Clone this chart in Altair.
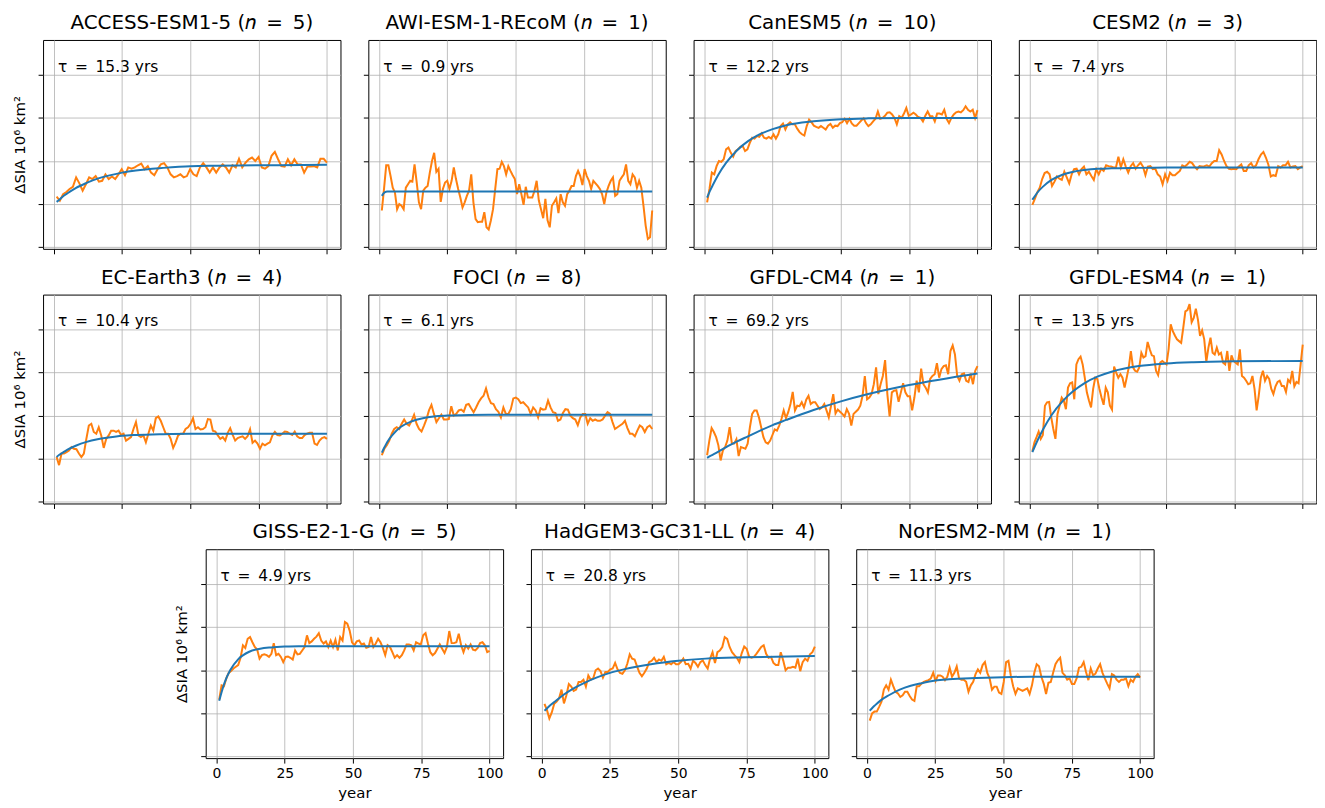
import altair as alt
import numpy as np
import pandas as pd

FIT_YEARS = [1, 2, 3, 5, 8, 12, 16, 20, 25, 30, 40, 50, 60, 75, 100]
X_TICKS = [0, 25, 50, 75, 100]
Y_TICKS = [0, 1, 2, 3, 4]

access_obs = [1.17, 1.08, 1.23, 1.28, 1.35, 1.40, 1.62, 1.48, 1.31, 1.46, 1.62, 1.58, 1.65, 1.52, 1.54, 1.69, 1.58, 1.64, 1.58, 1.69, 1.81, 1.67, 1.85, 1.82, 1.85, 1.90, 1.94, 1.81, 1.88, 1.73, 1.67, 1.81, 1.92, 1.95, 1.85, 1.69, 1.62, 1.65, 1.69, 1.62, 1.65, 1.81, 1.69, 1.65, 1.85, 1.95, 1.85, 1.73, 1.85, 1.73, 1.85, 1.92, 1.85, 1.73, 1.90, 1.85, 2.05, 1.85, 1.96, 2.04, 2.08, 2.00, 2.09, 1.85, 1.82, 1.88, 2.12, 2.21, 2.04, 1.88, 1.87, 2.04, 1.90, 2.04, 1.92, 1.92, 1.73, 1.87, 1.87, 1.88, 1.85, 2.05, 2.05, 1.96]
access_fit = [1.05, 1.10, 1.16, 1.25, 1.37, 1.49, 1.59, 1.66, 1.73, 1.78, 1.84, 1.88, 1.89, 1.90, 1.91]

awi_obs = [0.85, 1.35, 1.90, 1.90, 1.65, 1.38, 1.27, 0.88, 1.00, 0.96, 0.88, 1.38, 1.46, 1.54, 1.52, 1.92, 1.50, 1.04, 0.88, 1.31, 1.38, 1.42, 1.73, 2.00, 2.19, 1.75, 1.82, 1.05, 1.35, 1.50, 1.54, 1.35, 1.54, 1.85, 1.58, 1.35, 1.15, 0.92, 1.04, 1.19, 1.31, 1.69, 1.04, 0.65, 0.58, 0.59, 0.59, 0.81, 0.46, 0.41, 0.62, 0.88, 1.35, 1.81, 1.82, 1.98, 1.88, 1.69, 1.88, 1.77, 1.67, 1.58, 1.23, 1.46, 1.23, 0.98, 1.40, 1.15, 1.15, 1.15, 1.31, 1.54, 1.08, 0.88, 0.67, 1.12, 0.62, 0.46, 0.96, 1.04, 1.13, 0.79, 1.23, 1.04, 0.96, 1.23, 1.31, 1.42, 1.42, 1.65, 1.77, 1.65, 1.44, 1.81, 1.65, 1.54, 1.35, 1.54, 1.48, 1.42, 1.35, 1.23, 1.00, 1.27, 1.42, 1.54, 1.62, 1.19, 1.23, 1.54, 1.62, 1.69, 1.92, 1.54, 1.46, 1.69, 1.62, 1.38, 1.54, 1.38, 0.96, 0.50, 0.19, 0.23, 0.85]
awi_fit = [1.19, 1.27, 1.29, 1.29, 1.29, 1.29, 1.29, 1.29, 1.29, 1.29, 1.29, 1.29, 1.29, 1.29, 1.29]

canesm_obs = [1.04, 1.35, 1.73, 1.69, 1.88, 2.00, 1.98, 2.04, 2.27, 2.31, 2.19, 2.10, 2.23, 2.27, 2.33, 2.35, 2.23, 2.27, 2.42, 2.54, 2.52, 2.58, 2.56, 2.64, 2.54, 2.52, 2.56, 2.52, 2.62, 2.52, 2.62, 2.81, 2.87, 2.73, 2.85, 2.90, 2.85, 2.85, 2.75, 2.67, 2.62, 2.59, 2.81, 2.96, 2.90, 2.82, 2.79, 2.77, 2.81, 2.77, 2.73, 2.82, 2.86, 2.77, 2.82, 2.81, 2.88, 2.90, 2.98, 2.88, 2.98, 2.87, 2.82, 2.82, 2.88, 2.94, 2.99, 2.88, 2.81, 2.85, 2.92, 2.98, 3.15, 2.98, 3.00, 3.05, 3.12, 3.13, 3.08, 3.00, 2.85, 3.04, 3.00, 3.10, 3.23, 3.05, 3.08, 3.12, 3.08, 3.02, 3.00, 2.92, 3.05, 3.15, 3.04, 3.04, 2.92, 3.10, 3.10, 3.08, 3.19, 2.98, 2.88, 3.00, 3.08, 3.13, 3.15, 3.13, 3.18, 3.27, 3.19, 3.15, 3.19, 3.00, 3.18]
canesm_fit = [1.15, 1.30, 1.43, 1.67, 1.96, 2.25, 2.46, 2.61, 2.74, 2.83, 2.92, 2.97, 2.99, 3.00, 3.00]

cesm_obs = [0.98, 1.12, 1.27, 1.38, 1.58, 1.72, 1.75, 1.69, 1.42, 1.52, 1.64, 1.59, 1.56, 1.75, 1.62, 1.48, 1.69, 1.81, 1.82, 1.69, 1.81, 1.87, 1.69, 1.75, 1.65, 1.56, 1.81, 1.69, 1.82, 1.77, 1.90, 1.88, 1.87, 1.85, 1.85, 2.10, 1.85, 2.04, 1.87, 1.73, 1.88, 1.95, 1.82, 1.90, 1.96, 1.87, 1.67, 1.87, 1.88, 1.81, 1.82, 1.69, 1.64, 1.46, 1.69, 1.54, 1.73, 1.67, 1.67, 1.72, 1.77, 1.90, 1.87, 1.92, 1.98, 1.95, 1.87, 1.81, 1.88, 1.87, 1.88, 1.90, 1.87, 1.95, 2.00, 2.00, 2.25, 2.15, 2.00, 1.88, 1.82, 1.81, 1.82, 1.81, 1.87, 1.92, 1.77, 1.77, 1.90, 1.95, 1.85, 1.90, 2.04, 2.15, 2.21, 2.08, 1.92, 1.64, 1.67, 1.65, 1.88, 1.85, 1.90, 1.90, 1.98, 1.85, 1.87, 1.88, 1.81, 1.85, 1.88]
cesm_fit = [1.10, 1.19, 1.28, 1.41, 1.56, 1.68, 1.75, 1.79, 1.82, 1.83, 1.84, 1.85, 1.85, 1.85, 1.85]

ecearth_obs = [1.04, 0.85, 1.12, 1.12, 1.15, 1.19, 1.27, 1.23, 1.22, 1.12, 1.04, 1.12, 1.46, 1.77, 1.81, 1.62, 1.58, 1.73, 1.54, 1.25, 1.46, 1.54, 1.65, 1.65, 1.62, 1.65, 1.55, 1.58, 1.42, 1.46, 1.50, 1.69, 1.85, 1.54, 1.50, 1.54, 1.38, 1.58, 1.77, 1.65, 1.94, 1.98, 1.88, 1.73, 1.58, 1.58, 1.46, 1.25, 1.38, 1.54, 1.58, 1.58, 1.69, 1.73, 1.81, 1.94, 1.69, 1.73, 1.68, 1.69, 1.73, 1.92, 1.91, 1.65, 1.63, 1.54, 1.46, 1.50, 1.42, 1.60, 1.71, 1.55, 1.42, 1.48, 1.50, 1.52, 1.46, 1.52, 1.68, 1.37, 1.42, 1.35, 1.23, 1.35, 1.31, 1.35, 1.38, 1.54, 1.62, 1.55, 1.54, 1.58, 1.63, 1.62, 1.58, 1.55, 1.63, 1.52, 1.48, 1.48, 1.55, 1.58, 1.60, 1.60, 1.35, 1.32, 1.42, 1.48, 1.50, 1.46]
ecearth_fit = [1.04, 1.09, 1.13, 1.21, 1.30, 1.39, 1.45, 1.49, 1.53, 1.55, 1.57, 1.58, 1.58, 1.58, 1.58]

foci_obs = [1.08, 1.23, 1.31, 1.42, 1.58, 1.69, 1.73, 1.69, 1.81, 1.91, 1.81, 1.77, 1.88, 2.02, 1.81, 1.69, 1.63, 1.77, 1.92, 2.12, 2.25, 2.04, 1.85, 1.94, 2.02, 1.91, 1.91, 1.92, 2.22, 2.00, 2.04, 2.12, 2.14, 2.09, 2.25, 2.27, 2.17, 2.08, 2.19, 2.31, 2.40, 2.46, 2.63, 2.42, 2.29, 2.27, 2.15, 2.09, 1.96, 2.19, 2.04, 2.04, 2.15, 2.40, 2.42, 2.38, 2.29, 2.31, 2.25, 2.19, 2.04, 2.19, 2.12, 1.96, 2.17, 2.14, 2.15, 2.35, 2.19, 2.08, 2.06, 1.88, 1.91, 2.06, 2.15, 2.14, 2.00, 1.94, 1.91, 1.78, 1.96, 2.04, 2.04, 1.81, 1.94, 1.88, 1.91, 1.88, 1.88, 1.91, 2.00, 2.08, 2.04, 1.85, 1.69, 1.73, 1.77, 1.81, 1.88, 1.71, 1.58, 1.58, 1.52, 1.65, 1.77, 1.73, 1.62, 1.73, 1.77, 1.69]
foci_fit = [1.14, 1.27, 1.39, 1.56, 1.74, 1.87, 1.94, 1.98, 2.00, 2.01, 2.02, 2.02, 2.02, 2.02, 2.02]

gfdlcm_obs = [1.08, 1.42, 1.71, 1.62, 1.50, 1.31, 0.96, 1.19, 1.27, 1.42, 1.73, 1.35, 1.35, 1.45, 1.06, 1.27, 1.25, 1.23, 1.35, 1.73, 2.04, 2.12, 2.12, 1.96, 1.73, 1.50, 1.38, 1.35, 1.42, 1.55, 1.68, 1.65, 1.77, 1.92, 2.12, 1.94, 2.08, 2.27, 2.55, 2.12, 2.23, 2.22, 2.31, 2.19, 2.37, 2.46, 2.27, 2.31, 2.31, 2.23, 2.15, 2.19, 2.27, 2.12, 1.96, 2.23, 2.50, 2.05, 2.14, 2.09, 2.04, 1.98, 2.15, 2.04, 1.77, 2.04, 2.09, 2.14, 2.23, 2.46, 2.92, 2.38, 2.42, 2.50, 2.73, 3.12, 2.50, 2.73, 2.92, 3.29, 2.50, 1.98, 2.54, 2.58, 2.59, 2.32, 2.54, 2.75, 2.54, 2.45, 2.45, 2.12, 2.42, 2.81, 2.54, 3.09, 2.73, 2.65, 2.54, 2.85, 2.92, 2.96, 3.22, 2.88, 3.08, 3.15, 3.17, 2.96, 3.50, 3.63, 3.42, 2.92, 2.81, 2.96, 2.98, 2.81, 2.78, 2.98, 2.73, 3.04, 3.15]
gfdlcm_fit = [1.02, 1.06, 1.09, 1.16, 1.27, 1.40, 1.52, 1.64, 1.78, 1.90, 2.13, 2.33, 2.50, 2.71, 2.98]

gfdlesm_obs = [1.17, 1.38, 1.50, 1.63, 1.46, 1.55, 2.23, 2.31, 2.32, 1.96, 1.69, 1.46, 2.04, 2.23, 2.42, 2.35, 2.15, 2.65, 2.75, 2.77, 2.38, 3.19, 3.31, 3.37, 3.19, 2.88, 2.54, 2.35, 2.19, 2.62, 2.88, 2.85, 2.62, 2.42, 2.25, 2.65, 2.54, 2.23, 2.14, 3.14, 3.00, 2.88, 2.96, 2.88, 2.65, 2.88, 3.12, 3.50, 3.12, 3.04, 3.02, 3.12, 3.46, 3.35, 3.38, 3.71, 3.54, 3.40, 3.38, 3.04, 2.94, 3.23, 3.27, 3.23, 3.19, 3.54, 4.12, 3.96, 3.86, 3.77, 3.73, 3.69, 4.04, 4.42, 4.45, 4.59, 4.17, 4.27, 4.48, 4.23, 3.85, 3.98, 3.77, 3.25, 3.58, 3.81, 3.46, 3.42, 3.58, 3.42, 3.46, 3.23, 3.19, 3.50, 3.04, 3.40, 3.27, 3.23, 3.19, 3.54, 2.92, 2.88, 2.81, 2.73, 2.75, 2.92, 2.62, 2.12, 2.46, 2.88, 3.04, 2.81, 2.92, 2.85, 2.62, 2.50, 2.68, 2.78, 2.81, 2.69, 2.69, 2.55, 2.83, 2.77, 3.04, 2.68, 2.78, 2.75, 3.19, 3.65]
gfdlesm_fit = [1.15, 1.30, 1.44, 1.69, 2.01, 2.33, 2.57, 2.75, 2.91, 3.02, 3.15, 3.21, 3.24, 3.26, 3.27]

giss_obs = [1.32, 1.65, 1.63, 1.81, 1.94, 1.98, 2.04, 2.08, 2.12, 2.29, 2.58, 2.52, 2.73, 2.77, 2.65, 2.54, 2.48, 2.27, 2.35, 2.37, 2.35, 2.31, 2.38, 2.63, 2.35, 2.38, 2.31, 2.19, 2.31, 2.32, 2.29, 2.25, 2.46, 2.37, 2.38, 2.46, 2.54, 2.81, 2.63, 2.67, 2.73, 2.78, 2.86, 2.69, 2.62, 2.67, 2.54, 2.69, 2.54, 2.71, 2.46, 2.77, 2.69, 3.12, 3.08, 2.92, 2.65, 2.58, 2.67, 2.69, 2.60, 2.62, 2.52, 2.54, 2.77, 2.54, 2.62, 2.73, 2.65, 2.52, 2.35, 2.58, 2.54, 2.42, 2.29, 2.35, 2.29, 2.35, 2.46, 2.60, 2.60, 2.58, 2.46, 2.65, 2.62, 2.60, 2.81, 2.86, 2.62, 2.42, 2.35, 2.40, 2.50, 2.60, 2.50, 2.40, 2.54, 2.91, 2.63, 2.63, 2.65, 2.85, 2.58, 2.42, 2.58, 2.50, 2.60, 2.48, 2.46, 2.52, 2.63, 2.65, 2.58, 2.42, 2.45]
giss_fit = [1.29, 1.52, 1.72, 2.00, 2.26, 2.43, 2.50, 2.53, 2.55, 2.56, 2.56, 2.56, 2.56, 2.56, 2.56]

hadgem_obs = [1.22, 1.08, 0.88, 1.02, 1.22, 1.27, 1.35, 1.55, 1.23, 1.42, 1.68, 1.62, 1.52, 1.55, 1.73, 1.73, 1.78, 1.62, 1.88, 1.78, 1.81, 2.00, 2.04, 1.98, 1.83, 1.96, 1.96, 2.02, 2.04, 2.17, 2.02, 1.94, 1.92, 2.00, 2.15, 2.37, 2.27, 2.25, 2.09, 1.94, 1.86, 1.94, 2.04, 2.19, 2.22, 2.29, 2.19, 2.25, 2.22, 2.31, 2.14, 2.17, 2.14, 2.19, 2.14, 2.14, 2.19, 2.27, 2.14, 2.15, 2.04, 2.22, 2.17, 2.08, 2.19, 2.23, 2.12, 2.04, 2.27, 2.42, 2.17, 2.42, 2.46, 2.54, 2.77, 2.73, 2.54, 2.42, 2.35, 2.29, 2.19, 2.40, 2.55, 2.50, 2.32, 2.29, 2.31, 2.38, 2.46, 2.54, 2.58, 2.38, 2.29, 2.31, 2.17, 2.12, 2.12, 2.42, 2.23, 2.00, 2.06, 2.06, 2.08, 2.06, 2.27, 1.98, 2.19, 2.27, 2.22, 2.37, 2.42, 2.55]
hadgem_fit = [1.06, 1.12, 1.18, 1.28, 1.43, 1.59, 1.72, 1.83, 1.94, 2.02, 2.14, 2.22, 2.27, 2.30, 2.33]

noresm_obs = [0.83, 1.00, 1.04, 1.04, 1.15, 1.27, 1.55, 1.65, 1.55, 1.78, 1.63, 1.50, 1.46, 1.38, 1.42, 1.50, 1.50, 1.40, 1.32, 1.29, 1.63, 1.63, 1.69, 1.73, 1.75, 1.77, 1.81, 1.94, 1.75, 1.88, 1.88, 1.85, 1.77, 1.85, 2.06, 1.85, 1.94, 2.09, 1.81, 1.78, 1.78, 1.73, 1.50, 1.65, 1.73, 1.91, 2.02, 1.94, 2.12, 2.19, 1.94, 1.81, 1.55, 1.62, 1.62, 1.48, 1.45, 1.73, 2.19, 2.22, 1.88, 1.63, 1.45, 1.58, 1.55, 1.52, 1.55, 1.58, 1.45, 1.65, 1.94, 2.14, 2.09, 1.85, 1.69, 1.45, 1.71, 1.73, 1.94, 2.14, 2.23, 2.29, 1.94, 1.88, 1.78, 1.81, 1.68, 1.68, 1.81, 2.06, 2.08, 2.19, 1.96, 1.77, 2.04, 1.88, 1.92, 2.04, 2.14, 1.94, 1.81, 1.69, 1.58, 1.91, 1.88, 1.78, 1.73, 1.78, 1.78, 1.81, 1.63, 1.78, 1.73, 1.85, 1.91, 1.83]
noresm_fit = [1.06, 1.13, 1.19, 1.30, 1.42, 1.55, 1.64, 1.70, 1.76, 1.79, 1.82, 1.84, 1.85, 1.85, 1.85]

models = [
    ("ACCESS-ESM1-5", 5, "15.3", access_obs, access_fit),
    ("AWI-ESM-1-REcoM", 1, "0.9", awi_obs, awi_fit),
    ("CanESM5", 10, "12.2", canesm_obs, canesm_fit),
    ("CESM2", 3, "7.4", cesm_obs, cesm_fit),
    ("EC-Earth3", 4, "10.4", ecearth_obs, ecearth_fit),
    ("FOCI", 8, "6.1", foci_obs, foci_fit),
    ("GFDL-CM4", 1, "69.2", gfdlcm_obs, gfdlcm_fit),
    ("GFDL-ESM4", 1, "13.5", gfdlesm_obs, gfdlesm_fit),
    ("GISS-E2-1-G", 5, "4.9", giss_obs, giss_fit),
    ("HadGEM3-GC31-LL", 4, "20.8", hadgem_obs, hadgem_fit),
    ("NorESM2-MM", 1, "11.3", noresm_obs, noresm_fit),
]

FONT = "DejaVu Sans"
SP = "\u2002"  # en space, wider gaps around "=" as in mathtext


def build_panel(name, n, tau, obs, fit, first_col, bottom_row):
    obs_df = pd.DataFrame({"year": np.linspace(1, 100, len(obs)), "value": obs})
    fit_df = pd.DataFrame({"year": FIT_YEARS, "value": fit})
    label_df = pd.DataFrame({"label": [f"τ{SP}={SP}{tau} yrs"]})

    x = alt.X(
        "year:Q",
        scale=alt.Scale(domain=[-3.95, 104.95], nice=False, zero=False),
        axis=alt.Axis(values=X_TICKS, labels=bottom_row, labelPadding=3, titlePadding=6),
        title="year" if bottom_row else None,
    )
    y = alt.Y(
        "value:Q",
        scale=alt.Scale(domain=[-0.04, 4.81], nice=False, zero=False),
        axis=alt.Axis(
            values=Y_TICKS, labels=False, titleX=-24, titleAngle=270,
            titleAlign="center", titleBaseline="middle",
        ),
        title="ΔSIA 10⁶ km²" if first_col else None,
    )

    fit_line = alt.Chart(fit_df).mark_line(
        color="#1f77b4", strokeWidth=2, interpolate="monotone"
    ).encode(x=x, y=y)
    obs_line = alt.Chart(obs_df).mark_line(
        color="#ff7f0e", strokeWidth=2
    ).encode(x=x, y=y)
    tau_text = alt.Chart(label_df).mark_text(
        align="left", baseline="alphabetic", fontSize=15.5, font=FONT, color="black"
    ).encode(x=alt.value(15), y=alt.value(32), text="label:N")

    return alt.layer(obs_line, fit_line, tau_text).properties(
        width=299,
        height=210,
        title=alt.TitleParams(
            f"{name} (𝑛{SP}={SP}{n})", fontSize=20, fontWeight="normal",
            font=FONT, color="black", offset=7,
        ),
    )


panels = []
for i, (name, n, tau, obs, fit) in enumerate(models):
    first_col = i in (0, 4, 8)
    bottom_row = i >= 8
    panels.append(build_panel(name, n, tau, obs, fit, first_col, bottom_row))

row1 = alt.hconcat(*panels[0:4], spacing=21)
row2 = alt.hconcat(*panels[4:8], spacing=21)
row3 = alt.hconcat(*panels[8:11], spacing=21)

chart = (
    alt.vconcat(row1, row2, row3, spacing=12, center=True)
    .properties(padding={"left": 3, "top": 2, "right": 0, "bottom": 0})
    .configure_view(stroke="black", strokeWidth=1)
    .configure_axis(
        domain=False,
        grid=True,
        gridColor="#b0b0b0",
        gridWidth=0.8,
        tickColor="black",
        tickSize=5,
        tickWidth=1,
        labelFont=FONT,
        labelFontSize=14,
        labelColor="black",
        titleFont=FONT,
        titleFontSize=15,
        titleFontWeight="normal",
        titleColor="black",
    )
)

chart.save("out.html", embed_options={"renderer": "svg", "actions": False})
